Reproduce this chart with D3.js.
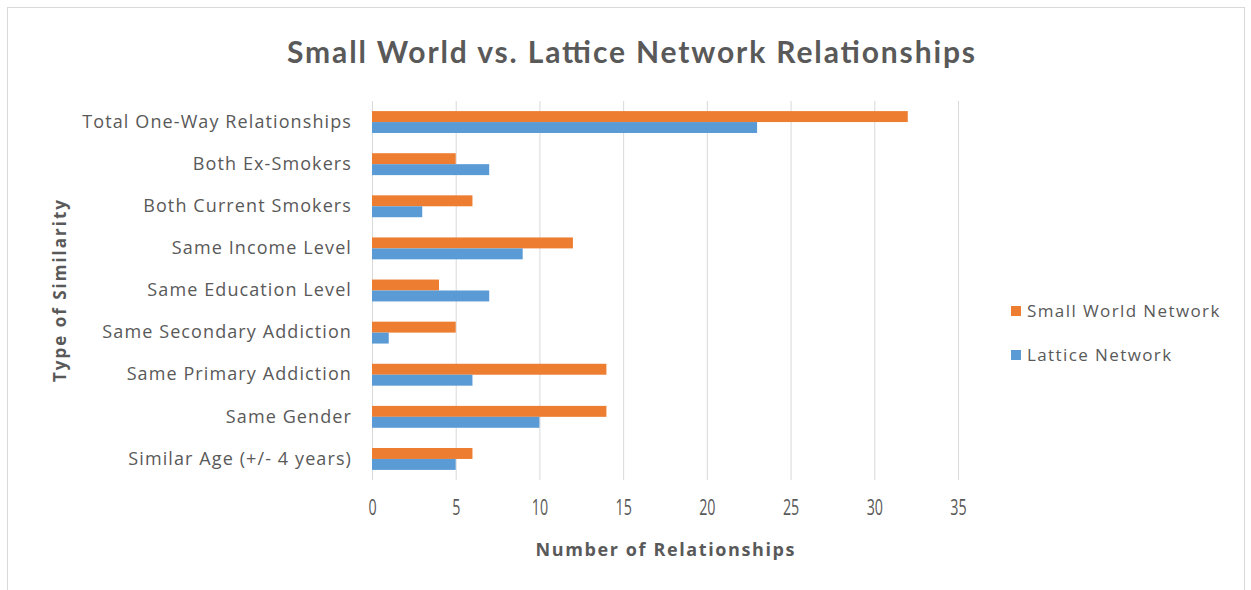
<!DOCTYPE html>
<html>
<head>
<meta charset="utf-8">
<script src="https://cdn.jsdelivr.net/npm/d3@7"></script>
<style>
  html, body { margin: 0; padding: 0; background: #fff; }
  svg { display: block; }
  text { font-family: "Open Sans", "Noto Sans", sans-serif; fill: #595959; }
</style>
</head>
<body>
<svg id="chart" width="1251" height="590"></svg>
<script>
// Categories, listed top to bottom as drawn
const categories = [
  "Total One-Way Relationships",
  "Both Ex-Smokers",
  "Both Current Smokers",
  "Same Income Level",
  "Same Education Level",
  "Same Secondary Addiction",
  "Same Primary Addiction",
  "Same Gender",
  "Similar Age (+/- 4 years)"
];
const seriesNames = ["Small World Network", "Lattice Network"];
const smallWorld = [32, 5, 6, 12, 4, 5, 14, 14, 6];
const lattice    = [23, 7, 3, 9, 7, 1, 6, 10, 5];
const xTicks = [0, 5, 10, 15, 20, 25, 30, 35];
const colors = ["#ED7D31", "#5B9BD5"];

const svg = d3.select("#chart");

// chart frame
svg.append("rect")
  .attr("x", 7.5).attr("y", 7.5)
  .attr("width", 1237).attr("height", 600)
  .attr("fill", "#fff").attr("stroke", "#d9d9d9").attr("stroke-width", 1);

const plot = { left: 372, right: 958, top: 101, bottom: 480 };

const x = d3.scaleLinear().domain([0, 35]).range([plot.left, plot.right]);
const y = d3.scaleBand().domain(categories).range([plot.top, plot.bottom]).paddingInner(0.48).paddingOuter(0.24);
const ySub = d3.scaleBand().domain(seriesNames).range([0, y.bandwidth()]);

// vertical gridlines
svg.append("g")
  .selectAll("line")
  .data(xTicks)
  .join("line")
  .attr("x1", d => x(d) + 0.5).attr("x2", d => x(d) + 0.5)
  .attr("y1", plot.top).attr("y2", plot.bottom)
  .attr("stroke", "#d9d9d9").attr("stroke-width", 1);

// bars
const rows = categories.map((c, i) => ({ cat: c, values: [smallWorld[i], lattice[i]] }));
const groups = svg.append("g")
  .selectAll("g")
  .data(rows)
  .join("g")
  .attr("transform", d => `translate(0,${y(d.cat)})`);

groups.selectAll("rect")
  .data(d => d.values.map((v, k) => ({ name: seriesNames[k], v, k })))
  .join("rect")
  .attr("x", x(0))
  .attr("y", d => ySub(d.name))
  .attr("width", d => x(d.v) - x(0))
  .attr("height", ySub.bandwidth())
  .attr("fill", d => colors[d.k]);

// x axis tick labels (tall, narrow digits)
const xAxis = d3.axisBottom(x).tickValues(xTicks).tickSize(0);
const gx = svg.append("g").attr("transform", `translate(0,${plot.bottom})`).call(xAxis);
gx.select(".domain").remove();
gx.selectAll("text")
  .attr("y", null).attr("dy", null)
  .attr("transform", "translate(0,35) scale(0.95,1.5)")
  .style("font-size", "15px")
  .style("font-family", "\"Open Sans\", sans-serif")
  .attr("fill", "#595959");

// y axis category labels
const yAxis = d3.axisLeft(y).tickSize(0).tickPadding(20);
const gy = svg.append("g").attr("transform", `translate(${plot.left},0)`).call(yAxis);
gy.select(".domain").remove();
gy.selectAll("text")
  .style("font-size", "18px")
  .style("letter-spacing", "1.1px")
  .style("font-family", "\"Open Sans\", sans-serif")
  .attr("fill", "#595959");

// title
svg.append("text")
  .attr("x", 631).attr("y", 63)
  .attr("text-anchor", "middle")
  .attr("textLength", 688).attr("lengthAdjust", "spacing")
  .style("font-family", "Lato, sans-serif")
  .style("font-weight", "bold")
  .style("font-size", "30px")
  .text("Small World vs. Lattice Network Relationships");

// axis titles
svg.append("text")
  .attr("x", 665).attr("y", 556)
  .attr("text-anchor", "middle")
  .attr("textLength", 259).attr("lengthAdjust", "spacing")
  .style("font-family", "\"Open Sans\", sans-serif")
  .style("font-weight", "bold")
  .style("font-size", "18px")
  .text("Number of Relationships");

svg.append("text")
  .attr("transform", "translate(66,291) rotate(-90)")
  .attr("text-anchor", "middle")
  .attr("textLength", 182).attr("lengthAdjust", "spacing")
  .style("font-family", "\"Open Sans\", sans-serif")
  .style("font-weight", "bold")
  .style("font-size", "17px")
  .text("Type of Similarity");

// legend
const legend = svg.append("g")
  .selectAll("g")
  .data(seriesNames)
  .join("g")
  .attr("transform", (d, i) => `translate(1011,${311 + i * 44})`);
legend.append("rect")
  .attr("x", 0).attr("y", -5).attr("width", 10).attr("height", 10)
  .attr("fill", (d, i) => colors[i]);
legend.append("text")
  .attr("x", 16).attr("y", 0).attr("dy", "0.35em")
  .style("font-size", "17px")
  .style("letter-spacing", "1.4px")
  .text(d => d);
</script>
</body>
</html>
